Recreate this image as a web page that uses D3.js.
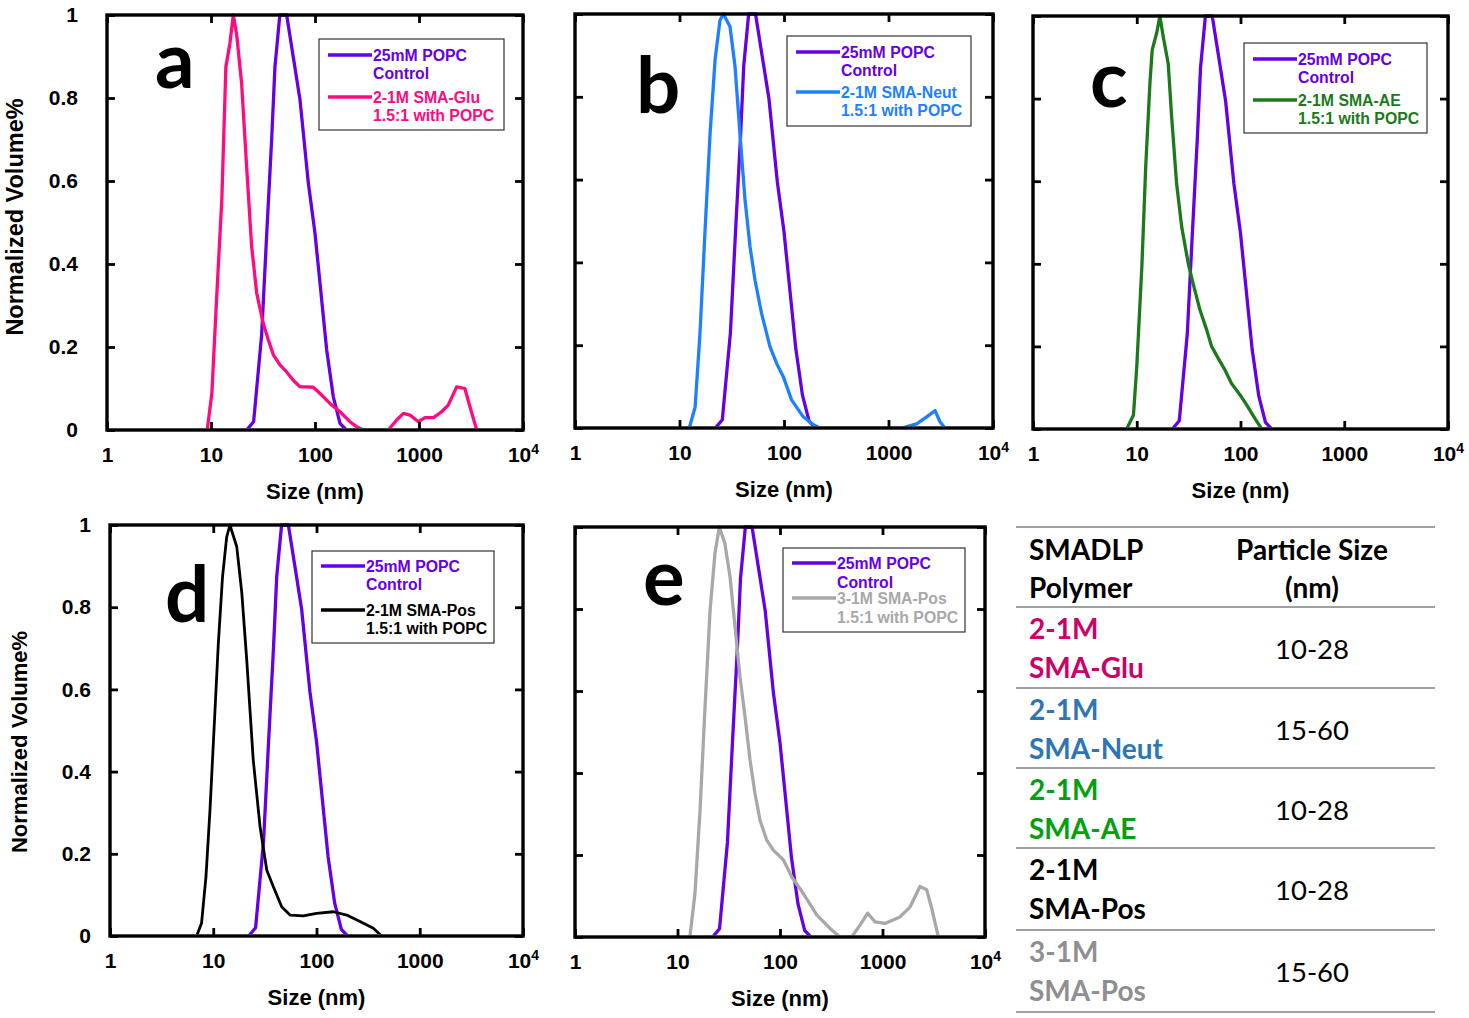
<!DOCTYPE html>
<html>
<head>
<meta charset="utf-8">
<script src="https://cdn.jsdelivr.net/npm/d3@7/dist/d3.min.js"></script>
<style>
  html, body { margin: 0; padding: 0; background: #fff; }
  svg { display: block; }
</style>
</head>
<body>
<svg id="chart" width="1469" height="1018"></svg>
<script>
// ---------------- DATA (size in nm, normalized volume) ----------------
const controlCurve = [[22,0],[25.7,0.02],[30.7,0.23],[34.3,0.47],[38.3,0.70],[41.2,0.875],[45.9,1.0],[53.4,1.0],[61.7,0.90],[71.8,0.795],[86.3,0.595],[100,0.474],[111.7,0.354],[129.5,0.193],[150,0.08],[174,0.016],[200,0]];
const gluCurve = [[9.2,0],[10.2,0.089],[11.3,0.313],[12.7,0.554],[13.9,0.875],[15.2,0.932],[16.4,1.0],[17.7,0.95],[19.7,0.835],[22,0.635],[24.6,0.442],[27.5,0.33],[31.8,0.257],[35.6,0.217],[39.8,0.181],[46,0.157],[53.4,0.14],[61.7,0.12],[71.8,0.104],[83,0.104],[96,0.103],[112,0.088],[139,0.064],[174,0.044],[217,0.02],[251,0.008],[292,0],[507,0],[610,0.024],[708,0.04],[819,0.036],[986,0.02],[1142,0.03],[1380,0.03],[1650,0.044],[1910,0.06],[2300,0.104],[2760,0.10],[3090,0.056],[3590,0]];
const neutCurve = [[12.4,0],[14.1,0.05],[15.7,0.228],[17.5,0.47],[19.6,0.71],[21.9,0.89],[24.4,0.985],[26.3,1.0],[30.4,0.97],[34,0.873],[37.9,0.71],[42.4,0.55],[47.3,0.438],[52.8,0.357],[61,0.277],[73.5,0.196],[85,0.156],[98.5,0.124],[118,0.068],[153,0.027],[191,0.008],[221,0],[1337,0],[1860,0.01],[2320,0.027],[2790,0.042],[3110,0.015],[3470,0]];
const aeCurve = [[8.0,0],[9.3,0.034],[10,0.15],[11.2,0.393],[12.2,0.635],[13.4,0.838],[14.1,0.918],[15.6,0.96],[16.7,1.0],[18,0.95],[20.1,0.885],[21.7,0.756],[24.2,0.595],[27.1,0.49],[31.4,0.40],[35.1,0.35],[40.7,0.288],[47.2,0.24],[52.7,0.2],[61,0.171],[70.8,0.143],[82,0.11],[102,0.078],[115,0.058],[138,0.025],[160,0]];
const pos2Curve = [[6.9,0],[7.7,0.031],[8.5,0.144],[9.3,0.307],[10.4,0.55],[11.2,0.712],[12.3,0.874],[13.5,0.971],[14.5,1.0],[16.9,0.947],[18.9,0.835],[21.1,0.672],[24.4,0.428],[28.4,0.266],[33,0.16],[38.2,0.12],[46,0.071],[55.4,0.051],[74.5,0.049],[100,0.055],[146,0.059],[196,0.051],[264,0.035],[355,0.019],[428,0]];
const pos3Curve = [[13.2,0],[14.8,0.106],[16.6,0.31],[18.5,0.554],[20.8,0.798],[23.2,0.936],[25.6,1.0],[29,0.96],[32.5,0.88],[36.4,0.757],[40.7,0.635],[45.6,0.537],[51,0.432],[57,0.35],[63.8,0.285],[74,0.237],[86,0.212],[108,0.188],[130,0.147],[169,0.106],[228,0.054],[308,0.021],[385,0],[501,0],[603,0.029],[717,0.058],[845,0.037],[1057,0.033],[1480,0.049],[1855,0.073],[2320,0.123],[2700,0.115],[3020,0.07],[3510,0]];

const panelLetters = ["a","b","c","d","e"];
const controlLabel = ["25mM POPC", "Control"];
const sampleLabels = [
  ["2-1M SMA-Glu", "1.5:1 with POPC"],
  ["2-1M SMA-Neut", "1.5:1 with POPC"],
  ["2-1M SMA-AE", "1.5:1 with POPC"],
  ["2-1M SMA-Pos", "1.5:1 with POPC"],
  ["3-1M SMA-Pos", "1.5:1 with POPC"]
];
const sampleCurves = [gluCurve, neutCurve, aeCurve, pos2Curve, pos3Curve];
const xTickValues = [1, 10, 100, 1000, 10000];
const yTickValues = [0, 0.2, 0.4, 0.6, 0.8, 1];

const tableHeader = [["SMADLP", "Polymer"], ["Particle Size", "(nm)"]];
const tablePolymers = [["2-1M","SMA-Glu"],["2-1M","SMA-Neut"],["2-1M","SMA-AE"],["2-1M","SMA-Pos"],["3-1M","SMA-Pos"]];
const tableSizes = ["10-28","15-60","10-28","10-28","15-60"];

// ---------------- STYLE / LAYOUT ----------------
const controlColor = "#6600e6";
const sampleColors = ["#ff0a80", "#1f80ff", "#1b7a1b", "#000000", "#a8a8a8"];
const tableColors = ["#cc0066", "#2e75b6", "#00a010", "#000000", "#8f8f8f"];

const panels = [
  {x0:107, x1:523, y0:15, y1:430, yLabels:true, yPad:29, yTitleX:15, yTitleY:217, yTitleSize:23.5, lg:[319,39,185,91], lgRows:[16,34,58,76], letter:[155,88]},
  {x0:575, x1:993, y0:14, y1:428, yLabels:false, lg:[787,36,184,90], lgRows:[16,34,56,74], letter:[636,113]},
  {x0:1033, x1:1448, y0:16, y1:429, yLabels:false, lg:[1244,43,183,90], lgRows:[16,34,57,75], letter:[1090,107]},
  {x0:110, x1:523, y0:525, y1:936, yLabels:true, yPad:19, yTitleX:19, yTitleY:742, yTitleSize:22, lg:[312,551,182,92], lgRows:[15,33,59,77], letter:[165,622]},
  {x0:575, x1:985, y0:527, y1:937, yLabels:false, lg:[783,548,182,84], lgRows:[15,34,50,69], letter:[643,605]}
];

const svg = d3.select("#chart");
const AX_FONT = "'Liberation Sans', Arial, sans-serif";

panels.forEach((p, i) => {
  const x = d3.scaleLog().domain([1, 1e4]).range([p.x0, p.x1]);
  const y = d3.scaleLinear().domain([0, 1]).range([p.y1, p.y0]);
  const g = svg.append("g");

  // clip so that zero-valued runs hide behind the frame
  const clipId = "clip" + i;
  g.append("clipPath").attr("id", clipId).append("rect")
    .attr("x", p.x0).attr("y", p.y0 - 6).attr("width", p.x1 - p.x0).attr("height", p.y1 - p.y0 + 6 - 1.7);

  // curves
  const line = d3.line().x(d => x(d[0])).y(d => y(d[1]));
  const cg = g.append("g").attr("clip-path", `url(#${clipId})`);
  cg.append("path").datum(controlCurve).attr("d", line)
    .attr("fill", "none").attr("stroke", controlColor).attr("stroke-width", 3.3).attr("stroke-linejoin", "round");
  cg.append("path").datum(sampleCurves[i]).attr("d", line)
    .attr("fill", "none").attr("stroke", sampleColors[i]).attr("stroke-width", i === 3 ? 2.8 : 3.3).attr("stroke-linejoin", "round");

  // axes
  const bottom = g.append("g").attr("transform", `translate(0,${p.y1})`)
    .call(d3.axisBottom(x).tickValues(xTickValues).tickSizeInner(-8).tickSizeOuter(0).tickPadding(17)
      .tickFormat(d => d === 10000 ? "10" : d3.format("d")(d)));
  bottom.selectAll("text").filter(d => d === 10000).append("tspan")
    .attr("dy", "-0.55em").text("4");
  const top = g.append("g").attr("transform", `translate(0,${p.y0})`)
    .call(d3.axisTop(x).tickValues(xTickValues).tickSizeInner(-8).tickSizeOuter(0).tickFormat(""));
  const left = g.append("g").attr("transform", `translate(${p.x0},0)`)
    .call(d3.axisLeft(y).tickValues(yTickValues).tickSizeInner(-8).tickSizeOuter(0).tickPadding(p.yPad || 20)
      .tickFormat(p.yLabels ? (d => d === 0 || d === 1 ? d3.format("d")(d) : d3.format(".1f")(d)) : ""));
  const right = g.append("g").attr("transform", `translate(${p.x1},0)`)
    .call(d3.axisRight(y).tickValues(yTickValues).tickSizeInner(-8).tickSizeOuter(0).tickFormat(""));
  [bottom, top, left, right].forEach(a => {
    a.select(".domain").remove();
    a.selectAll("line").attr("stroke", "#000").attr("stroke-width", 2.8);
    a.selectAll("text").attr("font-family", AX_FONT).attr("font-weight", "bold")
      .attr("font-size", "21px").attr("fill", "#000");
  });
  bottom.selectAll("text").filter(d => d === 10000).select("tspan").attr("font-size", "14px");

  // frame
  g.append("rect").attr("x", p.x0).attr("y", p.y0).attr("width", p.x1 - p.x0).attr("height", p.y1 - p.y0)
    .attr("fill", "none").attr("stroke", "#000").attr("stroke-width", 3.4);

  // axis titles
  g.append("text").attr("x", (p.x0 + p.x1) / 2).attr("y", p.y1 + 69)
    .attr("text-anchor", "middle").attr("font-family", AX_FONT).attr("font-weight", "bold")
    .attr("font-size", "22px").text("Size (nm)");
  if (p.yLabels) {
    g.append("text").attr("transform", `translate(${p.yTitleX + 8},${p.yTitleY}) rotate(-90)`)
      .attr("text-anchor", "middle").attr("font-family", AX_FONT).attr("font-weight", "bold")
      .attr("font-size", p.yTitleSize + "px").text("Normalized Volume%");
  }

  // panel letter
  g.append("text").attr("x", p.letter[0]).attr("y", p.letter[1])
    .attr("font-family", "Lato, 'Open Sans', sans-serif").attr("font-weight", "bold")
    .attr("font-size", "78px").attr("fill", "#000").text(panelLetters[i]);

  // legend
  const [lx, ly, lw, lh] = p.lg;
  const lg = g.append("g");
  lg.append("rect").attr("x", lx).attr("y", ly).attr("width", lw).attr("height", lh)
    .attr("fill", "#fff").attr("stroke", "#333").attr("stroke-width", 1.2);
  const entries = [
    {color: controlColor, lines: controlLabel, rows: [p.lgRows[0], p.lgRows[1]]},
    {color: sampleColors[i], lines: sampleLabels[i], rows: [p.lgRows[2], p.lgRows[3]]}
  ];
  entries.forEach(e => {
    lg.append("line").attr("x1", lx + 9).attr("x2", lx + 53)
      .attr("y1", ly + e.rows[0]).attr("y2", ly + e.rows[0])
      .attr("stroke", e.color).attr("stroke-width", 3.3);
    e.lines.forEach((t, k) => {
      lg.append("text").attr("x", lx + 54).attr("y", ly + e.rows[k]).attr("dy", "0.36em")
        .attr("font-family", AX_FONT).attr("font-weight", "bold").attr("font-size", "15.8px")
        .attr("fill", e.color).text(t);
    });
  });
});

// ---------------- TABLE ----------------
const tbl = svg.append("g");
const tX0 = 1016, tX1 = 1435;
const rowLines = [527, 607, 688, 768, 848, 930, 1012];
rowLines.forEach(yy => {
  tbl.append("line").attr("x1", tX0).attr("x2", tX1).attr("y1", yy).attr("y2", yy)
    .attr("stroke", "#7f7f7f").attr("stroke-width", 1.6);
});
const TF = "Lato, 'Open Sans', sans-serif";
tableHeader[0].forEach((t, k) => {
  tbl.append("text").attr("x", 1029).attr("y", 560 + k * 38)
    .attr("font-family", TF).attr("font-weight", "bold").attr("font-size", "28px").attr("fill", "#000").text(t);
});
tableHeader[1].forEach((t, k) => {
  tbl.append("text").attr("x", 1312).attr("y", 560 + k * 38).attr("text-anchor", "middle")
    .attr("font-family", TF).attr("font-weight", "bold").attr("font-size", "28px").attr("fill", "#000").text(t);
});
tablePolymers.forEach((pl, r) => {
  const top = rowLines[r + 1];
  pl.forEach((t, k) => {
    tbl.append("text").attr("x", 1029).attr("y", top + 32 + k * 39)
      .attr("font-family", TF).attr("font-weight", "bold").attr("font-size", "28px")
      .attr("fill", tableColors[r]).text(t);
  });
  tbl.append("text").attr("x", 1312).attr("y", top + 52).attr("text-anchor", "middle")
    .attr("font-family", TF).attr("font-size", "27.5px").attr("fill", "#000").text(tableSizes[r]);
});
</script>
</body>
</html>
